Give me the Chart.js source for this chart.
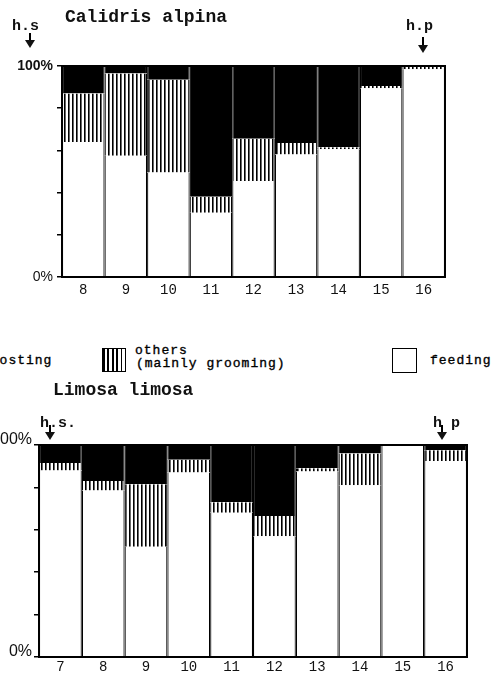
<!DOCTYPE html>
<html>
<head>
<meta charset="utf-8">
<script src="https://cdn.jsdelivr.net/npm/chart.js@4/dist/chart.umd.min.js"></script>
<style>
    body{margin:0;background:#fff;width:502px;height:675px;overflow:hidden;position:relative;font-family:"Liberation Mono",monospace;}
    canvas{position:absolute;}
    .lg{position:absolute;font-size:13px;line-height:13px;letter-spacing:1px;color:#000;-webkit-text-stroke:0.35px #000;white-space:nowrap;}
    .box{position:absolute;border:1.5px solid #000;box-sizing:border-box;}
</style>
</head>
<body>
<canvas id="chartTop" width="502" height="310" style="left:0;top:0"></canvas>
<canvas id="chartBottom" width="525" height="295" style="left:-23px;top:380px"></canvas>

<div class="box" style="left:-50px;top:348px;width:25px;height:24px;background:#000"></div>
<div class="lg" style="left:-18px;top:354px">roosting</div>
<div class="box" style="left:102px;top:348px;width:24px;height:24px;background:repeating-linear-gradient(90deg,#000 0 1.7px,#fff 1.7px 4.4px)"></div>
<div class="lg" style="left:135px;top:344px">others</div>
<div class="lg" style="left:136px;top:357px">(mainly grooming)</div>
<div class="box" style="left:392px;top:348px;width:25px;height:25px;background:#fff"></div>
<div class="lg" style="left:430px;top:354px">feeding</div>

<script>
// Calidris alpina, % of time per hour
const calidrisHours = ['8', '9', '10', '11', '12', '13', '14', '15', '16'];
const calidrisFeeding = [64, 57.5, 49.5, 30.5, 45.5, 58, 60.5, 89.5, 98.5];
const calidrisOthers = [23, 39, 44, 7.5, 20, 5.5, 1, 1, 1];
const calidrisRoosting = [13, 3.5, 6.5, 62, 34.5, 36.5, 38.5, 9.5, 0.5];

// Limosa limosa
const limosaHours = ['7', '8', '9', '10', '11', '12', '13', '14', '15', '16'];
const limosaFeeding = [88, 78.5, 52, 87, 68, 57, 87.5, 81, 100, 92.5];
const limosaOthers = [3.5, 4.5, 29.5, 6, 5, 9.5, 1.5, 15, 0, 5];
const limosaRoosting = [8.5, 17, 18.5, 7, 27, 33.5, 11, 4, 0, 2.5];

const yTicks = [0, 20, 40, 60, 80, 100];

function hatch() {
    let c = document.createElement('canvas');
    c.width = 4; c.height = 4;
    let g = c.getContext('2d');
    g.fillStyle = '#fff';
    g.fillRect(0, 0, 4, 4);
    g.fillStyle = '#000';
    g.fillRect(0, 0, 1.6, 4);
    return g.createPattern(c, 'repeat');
}

function arrow(ctx, x, y1, y2) {
    ctx.beginPath();
    ctx.moveTo(x, y1);
    ctx.lineTo(x, y2 - 6);
    ctx.stroke();
    ctx.beginPath();
    ctx.moveTo(x - 5, y2 - 8);
    ctx.lineTo(x + 5, y2 - 8);
    ctx.lineTo(x, y2);
    ctx.closePath();
    ctx.fill();
}

// title, h.s / h.p marks and frame
const decor = {
    id: 'decor',
    afterDraw(chart) {
        let o = chart.options.plugins.decor;
        let ctx = chart.ctx;
        let a = chart.chartArea;
        ctx.save();
        ctx.strokeStyle = '#000';
        ctx.lineWidth = 2;
        ctx.strokeRect(a.left, a.top, a.right - a.left, a.bottom - a.top);
        ctx.fillStyle = '#111';
        ctx.font = 'bold 18px "Liberation Mono"';
        ctx.textBaseline = 'alphabetic';
        ctx.fillText(o.title, o.titleX, o.titleY);
        ctx.font = 'bold 15px "Liberation Mono"';
        o.marks.forEach(function(m) {
            ctx.fillText(m.text, m.x, m.y);
            ctx.lineWidth = 2;
            arrow(ctx, m.ax, m.ay1, m.ay2);
        });
        ctx.restore();
    }
};

function makeChart(id, labels, feeding, others, roosting, o) {
    let border = {left: 1.2, right: 1.2, top: 0, bottom: 0};
    return new Chart(document.getElementById(id), {
        type: 'bar',
        data: {
            labels: labels,
            datasets: [
                {label: 'feeding', data: feeding, backgroundColor: '#fff'},
                {label: 'others (mainly grooming)', data: others, backgroundColor: hatch()},
                {label: 'roosting', data: roosting, backgroundColor: '#000'}
            ].map(d => Object.assign(d, {borderColor: '#000', borderWidth: border, borderSkipped: false, inflateAmount: 0}))
        },
        options: {
            responsive: false,
            animation: false,
            layout: {padding: {top: o.top, right: o.right, left: 0, bottom: 0}},
            datasets: {bar: {categoryPercentage: 1, barPercentage: 1}},
            plugins: {legend: {display: false}, tooltip: {enabled: false}, decor: o},
            scales: {
                x: {
                    stacked: true,
                    grid: {display: false, drawTicks: false},
                    border: {display: true, color: '#000', width: 2},
                    ticks: {color: '#111', padding: o.xPad, font: {family: 'Liberation Mono', size: 14}},
                    afterFit: s => { s.height = o.xHeight; }
                },
                y: {
                    stacked: true,
                    min: 0,
                    max: 100,
                    afterBuildTicks: s => { s.ticks = yTicks.map(v => ({value: v})); },
                    grid: {drawOnChartArea: false, drawTicks: true, tickLength: 5, color: '#000', lineWidth: 1.5},
                    border: {display: true, color: '#000', width: 2},
                    ticks: {
                        color: '#111',
                        padding: o.yPad,
                        labelOffset: o.yOffset,
                        font: c => ({family: 'Liberation Sans', size: o.ySize, weight: (c.tick && c.tick.value === 100 && o.boldTop) ? 'bold' : 'normal'}),
                        callback: v => (v === 0 || v === 100) ? v + '%' : ''
                    },
                    afterFit: s => { s.width = 62; }
                }
            }
        },
        plugins: [decor]
    });
}

makeChart('chartTop', calidrisHours, calidrisFeeding, calidrisOthers, calidrisRoosting, {
    top: 66, right: 57, xHeight: 33, xPad: 5, yPad: 4, yOffset: 0, ySize: 14, boldTop: true,
    title: 'Calidris alpina', titleX: 65, titleY: 22,
    marks: [
        {text: 'h.s', x: 12, y: 30, ax: 30, ay1: 33, ay2: 48},
        {text: 'h.p', x: 406, y: 30, ax: 423, ay1: 37, ay2: 53}
    ]
});

makeChart('chartBottom', limosaHours, limosaFeeding, limosaOthers, limosaRoosting, {
    top: 65, right: 35, xHeight: 18, xPad: 2, yPad: 2, yOffset: -5, ySize: 16, boldTop: false,
    title: 'Limosa limosa', titleX: 76, titleY: 15,
    marks: [
        {text: 'h.s.', x: 63, y: 47, ax: 73, ay1: 45, ay2: 60},
        {text: 'h p', x: 456, y: 47, ax: 465, ay1: 45, ay2: 60}
    ]
});
</script>
</body>
</html>
